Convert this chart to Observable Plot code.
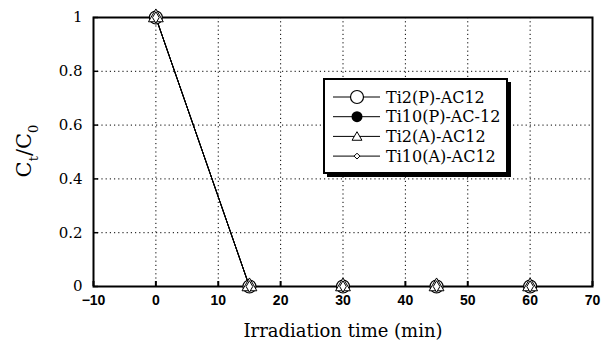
<!DOCTYPE html>
<html>
<head>
<meta charset="utf-8">
<script src="https://cdn.jsdelivr.net/npm/d3@7"></script>
<script src="https://cdn.jsdelivr.net/npm/@observablehq/plot@0.6"></script>
<style>
body { margin: 0; background: #fff; }
#wrap { position: relative; width: 611px; height: 350px; }
#legend { position: absolute; left: 323px; top: 78px; }
</style>
</head>
<body>
<div id="wrap"></div>
<script>
const times = [0, 15, 30, 45, 60];
const ti2P = [1, 0, 0, 0, 0];
const ti10P = [1, 0, 0, 0, 0];
const ti2A = [1, 0, 0, 0, 0];
const ti10A = [1, 0, 0, 0, 0];
const seriesNames = ["Ti2(P)-AC12", "Ti10(P)-AC-12", "Ti2(A)-AC12", "Ti10(A)-AC12"];
const xTicks = [-10, 0, 10, 20, 30, 40, 50, 60, 70];
const yTicks = [0, 0.2, 0.4, 0.6, 0.8, 1];
const xLabel = "Irradiation time (min)";

const seriesValues = [ti2P, ti10P, ti2A, ti10A];
const rows = seriesNames.flatMap((s, i) => times.map((t, j) => ({series: s, t, c: seriesValues[i][j]})));
const bySeries = name => rows.filter(d => d.series === name);

const serif = "'DejaVu Serif', serif";
const sans = "'Liberation Sans', Arial, sans-serif";

const chart = Plot.plot({
  width: 611,
  height: 350,
  marginLeft: 93,
  marginRight: 19,
  marginTop: 17,
  marginBottom: 64,
  style: {background: "white", color: "black", overflow: "visible"},
  x: {domain: [-10, 70], ticks: xTicks},
  y: {domain: [0, 1], ticks: yTicks},
  marks: [
    Plot.ruleX(xTicks.slice(1, -1), {stroke: "black", strokeWidth: 1, strokeDasharray: "1.2,3"}),
    Plot.ruleY(yTicks.slice(1, -1), {stroke: "black", strokeWidth: 1, strokeDasharray: "1.2,3"}),
    Plot.axisX(xTicks, {tickSize: -5, tickPadding: 14, tickFormat: d => d < 0 ? "\u2212" + Math.abs(d) : String(d), fontSize: 14, fontWeight: "bold", fontFamily: sans, label: null, strokeWidth: 2}),
    Plot.axisY(yTicks, {tickSize: -5, tickPadding: 16, tickFormat: d => String(d), fontSize: 15, fontFamily: serif, label: null, strokeWidth: 1.5}),
    Plot.frame({stroke: "black", strokeWidth: 2}),
    ...seriesNames.map(s => Plot.line(bySeries(s), {x: "t", y: "c", stroke: "black", strokeWidth: 1})),
    Plot.dot(bySeries(seriesNames[1]), {x: "t", y: "c", r: 5.5, fill: "black", stroke: "black"}),
    Plot.dot(bySeries(seriesNames[0]), {x: "t", y: "c", r: 6.5, fill: "white", stroke: "black", strokeWidth: 1.2}),
    Plot.dot(bySeries(seriesNames[2]), {x: "t", y: "c", r: 5.5, symbol: "triangle", fill: "white", stroke: "black", strokeWidth: 1}),
    Plot.dot(bySeries(seriesNames[3]), {x: "t", y: "c", r: 3.5, symbol: "diamond", fill: "white", stroke: "black", strokeWidth: 1}),
    Plot.text([xLabel], {frameAnchor: "bottom", dy: 38, fontSize: 18, fontFamily: serif, lineAnchor: "top", text: d => d})
  ]
});

const svg = d3.select(chart);
// y-axis label with subscripts
const yl = svg.append("text")
  .attr("transform", "translate(31,151) rotate(-90)")
  .attr("text-anchor", "middle")
  .attr("font-family", serif)
  .attr("font-size", 21)
  .attr("fill", "black");
yl.append("tspan").text("C");
yl.append("tspan").attr("font-size", 13).attr("dy", 7).text("t");
yl.append("tspan").attr("dy", -7).text("/C");
yl.append("tspan").attr("font-size", 13).attr("dy", 7).text("0");

document.getElementById("wrap").appendChild(chart);

// legend box
const lw = 186, lh = 97;
const leg = d3.select("#wrap").append("svg")
  .attr("id", "legend")
  .attr("width", lw + 4)
  .attr("height", lh + 4);
leg.append("rect").attr("x", 4).attr("y", 4).attr("width", lw - 2).attr("height", lh - 2).attr("fill", "black");
leg.append("rect").attr("x", 1).attr("y", 1).attr("width", lw - 3).attr("height", lh - 3).attr("fill", "white").attr("stroke", "black").attr("stroke-width", 2);
const symbols = ["circle", "circleFill", "triangle", "diamond"];
seriesNames.forEach((name, i) => {
  const cy = 19 + i * 19.7;
  const g = leg.append("g");
  g.append("line").attr("x1", 10).attr("x2", 57).attr("y1", cy).attr("y2", cy).attr("stroke", "black").attr("stroke-width", 1);
  const cx = 34;
  if (symbols[i] === "circle") {
    g.append("circle").attr("cx", cx).attr("cy", cy).attr("r", 6.5).attr("fill", "white").attr("stroke", "black").attr("stroke-width", 1.2);
  } else if (symbols[i] === "circleFill") {
    g.append("circle").attr("cx", cx).attr("cy", cy).attr("r", 5.5).attr("fill", "black");
  } else if (symbols[i] === "triangle") {
    g.append("path").attr("d", d3.symbol(d3.symbolTriangle2, 70)()).attr("transform", `translate(${cx},${cy + 1})`).attr("fill", "white").attr("stroke", "black");
  } else {
    g.append("path").attr("d", d3.symbol(d3.symbolDiamond2, 22)()).attr("transform", `translate(${cx},${cy})`).attr("fill", "white").attr("stroke", "black");
  }
  g.append("text").attr("x", 63).attr("y", cy).attr("dy", "0.35em")
    .attr("font-family", serif).attr("font-size", 16).attr("fill", "black").text(name);
});
</script>
</body>
</html>
